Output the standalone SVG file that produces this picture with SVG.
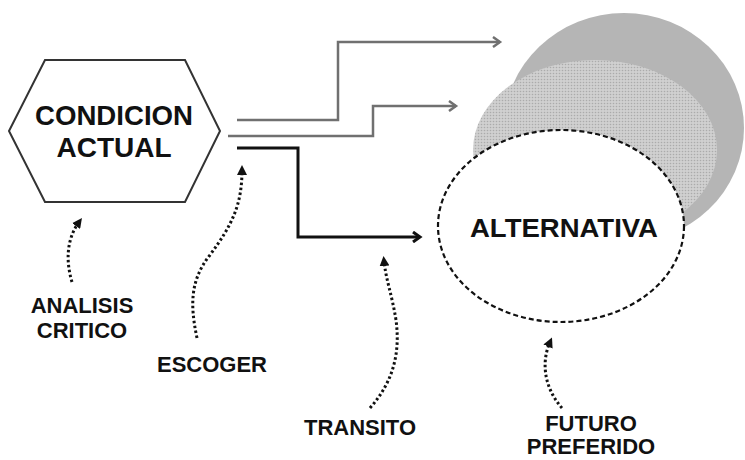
<svg xmlns="http://www.w3.org/2000/svg" width="745" height="460" viewBox="0 0 745 460">
<style>
.t{font-family:"Liberation Sans",Arial,sans-serif;font-weight:bold;fill:#111;text-anchor:middle}
.big{font-size:28px}
.lbl{font-size:22px}
.g{fill:none;stroke:#707070;stroke-width:2.5}
.k{fill:none;stroke:#111;stroke-width:3}
.dot{fill:none;stroke:#111;stroke-width:3;stroke-dasharray:2.5 2.5}
</style>
<defs>
<pattern id="dots" width="3" height="3" patternUnits="userSpaceOnUse">
<rect width="3" height="3" fill="#d0d0d0"/>
<circle cx="1.5" cy="1.5" r="0.8" fill="#ababab"/>
</pattern>
<marker id="og" markerWidth="12" markerHeight="12" refX="9" refY="6" orient="auto" markerUnits="userSpaceOnUse">
<path d="M2,1 L9,6 L2,11" fill="none" stroke="#707070" stroke-width="2.5"/>
</marker>
<marker id="ok" markerWidth="12" markerHeight="12" refX="9" refY="6" orient="auto" markerUnits="userSpaceOnUse">
<path d="M2,1 L9,6 L2,11" fill="none" stroke="#111" stroke-width="3"/>
</marker>
<marker id="tri" markerWidth="10" markerHeight="10" refX="5" refY="5" orient="auto" markerUnits="userSpaceOnUse">
<path d="M0,0 L10,5 L0,10 Z" fill="#111"/>
</marker>
</defs>
<rect width="745" height="460" fill="#fff"/>
<g id="futures">
<ellipse cx="624" cy="128" rx="120" ry="115" fill="#b5b5b5"/>
<ellipse cx="595" cy="150" rx="122" ry="90" fill="url(#dots)"/>
</g>
<g id="connectors">
<path class="g" d="M237,120 H338 V42 H500" marker-end="url(#og)"/>
<path class="g" d="M228,136 H373 V106 H456" marker-end="url(#og)"/>
<path class="k" d="M237,148 H298 V237 H420" marker-end="url(#ok)"/>
<path class="dot" d="M72,282 C66,262 66,240 79,222" marker-end="url(#tri)"/>
<path class="dot" d="M197,338 C190,305 190,280 210,255 C232,225 242,205 242,170" marker-end="url(#tri)"/>
<path class="dot" d="M370,408 C395,380 400,350 396,320 C392,295 386,280 384,261" marker-end="url(#tri)"/>
<path class="dot" d="M562,408 C546,390 540,365 550,342" marker-end="url(#tri)"/>
</g>
<g id="condicion">
<polygon points="45,60 185,60 220,131 185,202 45,202 9,131" fill="#fff" stroke="#333" stroke-width="2"/>
<text class="t big" x="114" y="125" textLength="158" lengthAdjust="spacingAndGlyphs">CONDICION</text>
<text class="t big" x="114" y="157">ACTUAL</text>
</g>
<g id="alternativa">
<ellipse cx="561" cy="226" rx="123" ry="96" fill="#fff" stroke="#111" stroke-width="2.2" stroke-dasharray="5 3"/>
<text class="t" style="font-size:26px" x="564" y="237" textLength="188" lengthAdjust="spacingAndGlyphs">ALTERNATIVA</text>
</g>
<g id="analisis">
<text class="t lbl" x="82" y="313">ANALISIS</text>
<text class="t lbl" x="82" y="338">CRITICO</text>
</g>
<g id="escoger"><text class="t lbl" x="212" y="372">ESCOGER</text></g>
<g id="transito"><text class="t lbl" x="360" y="435">TRANSITO</text></g>
<g id="futuro">
<text class="t lbl" x="591" y="431">FUTURO</text>
<text class="t lbl" x="591" y="454">PREFERIDO</text>
</g>
</svg>
